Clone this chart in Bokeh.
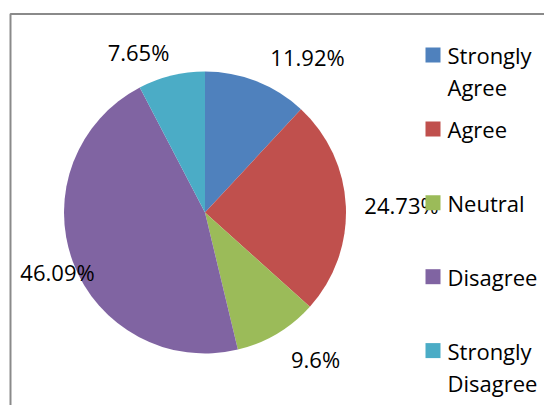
import math
from bokeh.plotting import figure
from bokeh.models import Range1d
from bokeh.core.properties import value
from bokeh.embed import file_html
from bokeh.resources import INLINE

# ---- data ----
categories = ["Strongly Agree", "Agree", "Neutral", "Disagree", "Strongly Disagree"]
percents = [11.92, 24.73, 9.6, 46.09, 7.65]
pct_labels = ["11.92%", "24.73%", "9.6%", "46.09%", "7.65%"]
colors = ["#4F81BD", "#C0504D", "#9BBB59", "#8064A2", "#4BACC6"]

# ---- layout (page pixel coordinates; data y = -page y) ----
W, H = 544, 405
cx, cy, R = 204.5, 212.0, 141.0
label_pos = [(307, 56), (401, 204), (315, 358), (57, 271), (138, 51)]
legend_x_sq = 432.5
legend_x_txt = 447
legend_y0 = 54.5
legend_step = 73.9
line_step = 32
FONT = "Open Sans"
FS = "22px"

p = figure(width=W, height=H, output_backend="svg", toolbar_location=None,
           x_range=Range1d(0, W), y_range=Range1d(-H, 0),
           min_border=0)
p.axis.visible = False
p.grid.visible = False
p.outline_line_color = None
p.background_fill_color = "white"
p.border_fill_color = "white"

# chart border (extends beyond the visible window on right and bottom)
p.line(x=[10, 10, 700], y=[-600, -13.5, -13.5], line_color="#8a8a8a", line_width=2)

# pie wedges
total = sum(percents)
starts, ends = [], []
cum = 0.0
for v in percents:
    starts.append(math.pi / 2 - 2 * math.pi * cum / total)
    cum += v
    ends.append(math.pi / 2 - 2 * math.pi * cum / total)
p.wedge(x=cx, y=-cy, radius=R, start_angle=starts, end_angle=ends,
        direction="clock", fill_color=colors, line_color=None)

# data labels
p.text(x=[lp[0] for lp in label_pos], y=[-lp[1] for lp in label_pos], text=pct_labels,
       text_font=value(FONT), text_font_size=FS, text_color="black",
       text_align="center", text_baseline="middle")

# legend
sq_x, sq_y, tx, ty, tt = [], [], [], [], []
for i, cat in enumerate(categories):
    yc = legend_y0 + i * legend_step
    sq_x.append(legend_x_sq)
    sq_y.append(-yc)
    for j, word in enumerate(cat.split(" ")):
        tx.append(legend_x_txt)
        ty.append(-(yc + j * line_step))
        tt.append(word)
p.scatter(x=sq_x, y=sq_y, marker="square", size=15, fill_color=colors, line_color=None)
p.text(x=tx, y=ty, text=tt, text_font=value(FONT), text_font_size=FS,
       text_color="black", text_align="left", text_baseline="middle")

open("out.html", "w").write(file_html(p, INLINE))
